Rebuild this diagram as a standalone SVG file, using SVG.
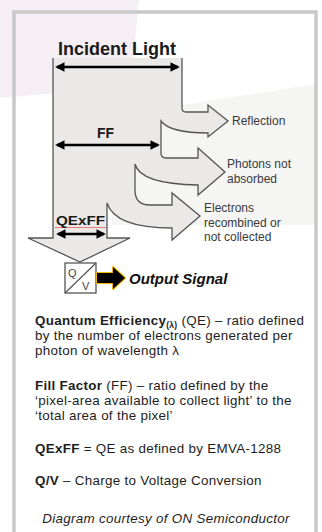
<svg xmlns="http://www.w3.org/2000/svg" width="322" height="532" viewBox="0 0 322 532">
<style>
.lbl{font-family:"Liberation Sans",Arial,sans-serif;font-size:12px;fill:#3a3a3a}
.hd{font-family:"Liberation Sans",Arial,sans-serif;font-weight:bold;fill:#1a1a1a}
.body{font-family:"Liberation Sans",Arial,sans-serif;font-size:13.4px;letter-spacing:0.3px;fill:#1e1e1e}
.b{font-weight:bold}
.dim{stroke:#000;stroke-width:2.6;fill:none}
.beam{fill:#eae9e7;stroke:#555;stroke-width:1.3;stroke-linejoin:miter}
</style>
<defs>
<marker id="ah" viewBox="0 0 10 10" refX="8" refY="5" markerWidth="4" markerHeight="3.6" orient="auto-start-reverse">
<path d="M0,0 L10,5 L0,10 Z" fill="#000"/>
</marker>
</defs>
<rect width="322" height="532" fill="#fff"/>
<path d="M0,0 H139 L134,50 L131,86 Q70,92 0,98 Z" fill="#f5eef5"/>
<path d="M112,116 L316,84 V225 H112 Z" fill="#f5f5f4"/>
<rect x="14" y="12" width="302" height="540" fill="none" stroke="#c8c8c8" stroke-width="3.5"/>

<g id="beam">
<path class="beam" d="M53,58 V238 H28 L80,262 L130,238 H107 V203 Q115,228 172,228 V240 L200,216 L172,193 V205 H150 Q135,205 135,190 V164 Q140,184 198,185 V195 L225,172 L198,148 V158 H166 Q161,158 161,153 V121 Q170,133 208,133 V137 L228,121 L208,105 V112 H186 Q182,112 182,108 V58"/>
</g>

<g id="connectors">
<line class="dim" x1="57" y1="67" x2="178" y2="67" marker-start="url(#ah)" marker-end="url(#ah)"/>
<line class="dim" x1="57" y1="145" x2="158" y2="145" marker-start="url(#ah)" marker-end="url(#ah)"/>
<line class="dim" x1="58" y1="234" x2="104" y2="234" marker-start="url(#ah)" marker-end="url(#ah)"/>
<line x1="55" y1="227.5" x2="106" y2="227.5" stroke="#e8787c" stroke-width="1"/>
</g>

<g id="incident"><text class="hd" x="58" y="55" font-size="18">Incident Light</text></g>
<g id="ff"><text class="hd" x="97" y="138" font-size="14">FF</text></g>
<g id="qexff"><text class="hd" x="56" y="225" font-size="13.5" textLength="49" lengthAdjust="spacingAndGlyphs">QExFF</text></g>

<g id="reflection"><text class="lbl" x="232" y="125">Reflection</text></g>
<g id="photons"><text class="lbl" x="227" y="168">Photons not</text><text class="lbl" x="227" y="183">absorbed</text></g>
<g id="electrons"><text class="lbl" x="204" y="212">Electrons</text><text class="lbl" x="204" y="227">recombined or</text><text class="lbl" x="204" y="241">not collected</text></g>

<g id="qv">
<rect x="65" y="263" width="31" height="30" fill="#fff" stroke="#555" stroke-width="1.3"/>
<line x1="65" y1="293" x2="96" y2="263" stroke="#555" stroke-width="1.2"/>
<text x="68" y="277" font-family="Liberation Sans,Arial,sans-serif" font-size="11" fill="#444">Q</text>
<text x="82" y="290" font-family="Liberation Sans,Arial,sans-serif" font-size="11" fill="#444">V</text>
</g>

<g id="output">
<path d="M97,273 H113 V267 L125,278 L113,289 V283 H97 Z" fill="#000" stroke="#f2b800" stroke-width="2" stroke-linejoin="round"/>
<path d="M97,273 H113 V267 L125,278 L113,289 V283 H97 Z" fill="#000"/>
<text x="129" y="284" font-family="Liberation Sans,Arial,sans-serif" font-size="15" font-weight="bold" font-style="italic" fill="#111">Output Signal</text>
</g>

<g id="notes">
<text class="body" x="35" y="325"><tspan class="b">Quantum Efficiency</tspan><tspan class="b" font-size="8.5" dy="2.5">(λ)</tspan><tspan dy="-2.5"> (QE) – ratio defined</tspan></text>
<text class="body" x="35" y="340">by the number of electrons generated per</text>
<text class="body" x="35" y="355">photon of wavelength λ</text>
<text class="body" x="35" y="390"><tspan class="b">Fill Factor</tspan> (FF) – ratio defined by the</text>
<text class="body" x="35" y="405">‘pixel-area available to collect light’ to the</text>
<text class="body" x="35" y="420">‘total area of the pixel’</text>
<text class="body" x="35" y="453"><tspan class="b">QExFF</tspan> = QE as defined by EMVA-1288</text>
<text class="body" x="35" y="485"><tspan class="b">Q/V</tspan> – Charge to Voltage Conversion</text>
<text class="body" x="166" y="523" text-anchor="middle" font-style="italic" fill="#8c8c8c">Diagram courtesy of ON Semiconductor</text>
</g>
</svg>
